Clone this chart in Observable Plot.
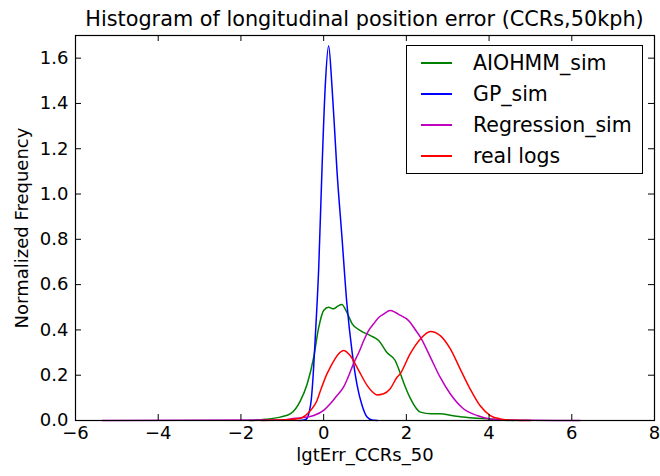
<!DOCTYPE html>
<html><head><meta charset="utf-8">
<script src="https://cdn.jsdelivr.net/npm/d3@7"></script>
<script src="https://cdn.jsdelivr.net/npm/@observablehq/plot@0.6"></script>
<style>
body{margin:0;background:#fff;font-family:"DejaVu Sans",sans-serif;color:#000;}
#wrap{position:relative;width:660px;height:476px;overflow:hidden;}
#title{position:absolute;left:75px;width:579px;top:7px;text-align:center;font-size:20.8px;line-height:24px;white-space:nowrap;}
#chart{position:absolute;left:0;top:34px;}
#legend{position:absolute;left:406px;top:45px;width:235px;height:127px;border:1px solid #000;background:#fff;}
.row{position:absolute;left:0;height:30px;width:235px;}
.row .ln{position:absolute;left:14px;width:31px;top:14px;height:1.6px;}
.row .tx{position:absolute;left:66px;top:1px;font-size:20.5px;line-height:28px;white-space:nowrap;}
</style></head>
<body>
<div id="wrap">
  <div id="title"></div>
  <div id="chart"></div>
  <div id="legend"></div>
</div>
<script>
const titleText = "Histogram of longitudinal position error (CCRs,50kph)";
const xLabel = "lgtErr_CCRs_50";
const yLabel = "Normalized Frequency";
const seriesNames = ["AIOHMM_sim", "GP_sim", "Regression_sim", "real logs"];
const seriesColors = ["#008000", "#0000ff", "#bf00bf", "#ff0000"];
const xTicks = [-6, -4, -2, 0, 2, 4, 6, 8];
const yTicks = [0, 0.2, 0.4, 0.6, 0.8, 1.0, 1.2, 1.4, 1.6];

const aiohmmX = [-1.8, -1.4, -1.05, -0.8, -0.56, -0.4, -0.24, -0.12, 0.0, 0.12, 0.24, 0.34, 0.44, 0.56, 0.69, 0.89, 1.13, 1.33, 1.53, 1.73, 1.85, 1.97, 2.09, 2.34, 2.6, 2.82, 3.1, 3.38, 3.7, 3.95, 4.3, 4.6];
const aiohmmY = [0, 0.005, 0.015, 0.03, 0.088, 0.16, 0.28, 0.41, 0.486, 0.50, 0.493, 0.505, 0.512, 0.478, 0.427, 0.397, 0.375, 0.353, 0.30, 0.265, 0.21, 0.15, 0.10, 0.037, 0.03, 0.03, 0.022, 0.015, 0.01, 0.008, 0.002, 0];

const gpX = [-0.6, -0.45, -0.4, -0.35, -0.3, -0.27, -0.2, -0.12, -0.04, 0.04, 0.12, 0.2, 0.26, 0.32, 0.44, 0.56, 0.69, 0.81, 0.93, 1.05, 1.17, 1.3];
const gpY = [0, 0.003, 0.01, 0.037, 0.09, 0.155, 0.375, 0.67, 1.11, 1.48, 1.655, 1.48, 1.3, 1.11, 0.817, 0.52, 0.30, 0.155, 0.066, 0.015, 0.002, 0];

const regX = [-5.35, -1.0, -0.8, -0.5, -0.24, 0.0, 0.16, 0.3, 0.48, 0.6, 0.72, 0.85, 0.97, 1.08, 1.21, 1.33, 1.45, 1.61, 1.73, 1.85, 2.0, 2.09, 2.2, 2.34, 2.58, 2.82, 3.06, 3.38, 3.71, 4.03, 4.5, 6.2];
const regY = [0, 0.002, 0.007, 0.013, 0.022, 0.045, 0.074, 0.105, 0.147, 0.195, 0.25, 0.30, 0.353, 0.395, 0.427, 0.455, 0.47, 0.486, 0.478, 0.465, 0.45, 0.434, 0.405, 0.368, 0.28, 0.19, 0.118, 0.052, 0.022, 0.007, 0.002, 0];

const realX = [-1.5, -0.8, -0.56, -0.32, -0.16, -0.08, 0.08, 0.16, 0.36, 0.48, 0.64, 0.85, 1.05, 1.17, 1.29, 1.45, 1.61, 1.77, 1.85, 2.09, 2.34, 2.58, 2.82, 3.06, 3.30, 3.54, 3.78, 4.03, 4.27, 4.6, 5.0];
const realY = [0, 0.004, 0.01, 0.044, 0.088, 0.13, 0.206, 0.235, 0.294, 0.309, 0.287, 0.22, 0.155, 0.128, 0.113, 0.118, 0.14, 0.19, 0.206, 0.294, 0.36, 0.393, 0.375, 0.317, 0.228, 0.14, 0.066, 0.022, 0.007, 0.001, 0];

const seriesX = [aiohmmX, gpX, regX, realX];
const seriesY = [aiohmmY, gpY, regY, realY];
const rows = [];
seriesNames.forEach((s, i) => seriesX[i].forEach((x, j) => rows.push({s, x, y: seriesY[i][j]})));

const W = 660, H = 442, mT = 1, mB = 56, mL = 75, mR = 6;
const fh = H - mT - mB, fw = W - mL - mR, tk = 6;
const fmtX = d => d < 0 ? "\u2212" + Math.abs(d) : String(d);
const fmtY = d3.format(".1f");

const chart = Plot.plot({
  width: W, height: H, marginTop: mT, marginBottom: mB, marginLeft: mL, marginRight: mR,
  style: {fontFamily: "DejaVu Sans, sans-serif", fontSize: "18px", color: "#000", background: "#fff", overflow: "visible"},
  x: {domain: [-6, 8]},
  y: {domain: [0, 1.7]},
  color: {domain: seriesNames, range: seriesColors},
  marks: [
    Plot.line(rows, {x: "x", y: "y", z: "s", stroke: "s", strokeWidth: 1.5, curve: "monotone-x"}),
    Plot.tickX(xTicks, {x: d => d, insetTop: fh - tk, stroke: "#000"}),
    Plot.tickX(xTicks, {x: d => d, insetBottom: fh - tk, stroke: "#000"}),
    Plot.tickY(yTicks, {y: d => d, insetRight: fw - tk, stroke: "#000"}),
    Plot.tickY(yTicks, {y: d => d, insetLeft: fw - tk, stroke: "#000"}),
    Plot.axisX(xTicks, {tickSize: 0, tickPadding: 6, tickFormat: fmtX, label: null, fontSize: 18}),
    Plot.axisY(yTicks, {tickSize: 0, tickPadding: 7, tickFormat: fmtY, label: null, fontSize: 18}),
    Plot.frame({stroke: "#000", strokeWidth: 1.2}),
    Plot.text([xLabel], {text: d => d, frameAnchor: "bottom", textAnchor: "middle", dy: 40, fontSize: 18}),
    Plot.text([yLabel], {text: d => d, frameAnchor: "left", textAnchor: "middle", lineAnchor: "middle", rotate: -90, dx: -53, fontSize: 18})
  ]
});
document.getElementById("chart").appendChild(chart);
document.getElementById("title").textContent = titleText;

const leg = document.getElementById("legend");
seriesNames.forEach((s, i) => {
  const r = document.createElement("div");
  r.className = "row";
  r.style.top = (2 + i * 31) + "px";
  r.innerHTML = `<div class="ln" style="background:${seriesColors[i]}"></div><div class="tx"></div>`;
  r.querySelector(".tx").textContent = s;
  leg.appendChild(r);
});
</script>
</body></html>
